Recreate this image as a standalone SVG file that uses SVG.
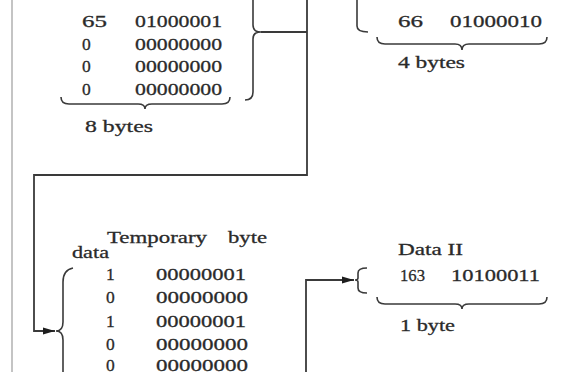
<svg xmlns="http://www.w3.org/2000/svg" width="584" height="372" viewBox="0 0 584 372">
<style>
  text { font-family: "Liberation Serif", "Times New Roman", serif; font-size: 17.5px; fill: #2a2a2a; stroke: #2a2a2a; stroke-width: 0.3; }
  .br { fill: none; stroke: #3a3a3a; stroke-width: 1.6; }
  .ln { fill: none; stroke: #3a3a3a; stroke-width: 1.8; }
</style>
<defs>
  <marker id="ah" markerWidth="12" markerHeight="8" refX="12" refY="4" orient="auto" markerUnits="userSpaceOnUse">
    <path d="M0,0.5 L12,4 L0,7.5 Z" fill="#1e1e1e"/>
  </marker>
</defs>
<rect width="584" height="372" fill="#ffffff"/>
<line x1="12" y1="0" x2="12" y2="372" stroke="#c4c4c4" stroke-width="2"/>

<g id="data-8bytes">
  <text x="82" y="27" textLength="25" lengthAdjust="spacingAndGlyphs">65</text>
  <text x="135" y="27" textLength="87" lengthAdjust="spacingAndGlyphs">01000001</text>
  <text x="82" y="50">0</text>
  <text x="135" y="50" textLength="87" lengthAdjust="spacingAndGlyphs">00000000</text>
  <text x="82" y="72">0</text>
  <text x="135" y="72" textLength="87" lengthAdjust="spacingAndGlyphs">00000000</text>
  <text x="82" y="95">0</text>
  <text x="135" y="95" textLength="87" lengthAdjust="spacingAndGlyphs">00000000</text>
  <path class="br" d="M61,97 Q61,104 69,104 L138,104 Q145,104 145,109 Q145,104 152,104 L222,104 Q230,104 230,97"/>
  <text x="85" y="132" textLength="68" lengthAdjust="spacingAndGlyphs">8 bytes</text>
  <path class="br" d="M253,-4 L253,25 Q253,32 261,32 Q253,32 253,39 L253,92 Q253,100 245,100"/>
</g>

<g id="data-4bytes">
  <path class="br" d="M357,0 L357,26 Q357,32 368,32"/>
  <text x="398" y="27" textLength="25" lengthAdjust="spacingAndGlyphs">66</text>
  <text x="450" y="27" textLength="92" lengthAdjust="spacingAndGlyphs">01000010</text>
  <path class="br" d="M377,37 Q377,44 385,44 L455,44 Q462,44 462,50 Q462,44 469,44 L539,44 Q547,44 547,37"/>
  <text x="398" y="68" textLength="67" lengthAdjust="spacingAndGlyphs">4 bytes</text>
</g>

<g id="temporary-byte">
  <text x="107" y="243" textLength="100" lengthAdjust="spacingAndGlyphs">Temporary</text>
  <text x="228" y="243" textLength="39" lengthAdjust="spacingAndGlyphs">byte</text>
  <text x="72" y="258" textLength="37" lengthAdjust="spacingAndGlyphs">data</text>
  <path class="br" d="M73,268 Q63,270 63,282 L63,322 Q63,331 56,331 Q63,331 63,340 L63,380"/>
  <text x="106" y="280">1</text>
  <text x="156" y="280" textLength="90" lengthAdjust="spacingAndGlyphs">00000001</text>
  <text x="106" y="303">0</text>
  <text x="156" y="303" textLength="92" lengthAdjust="spacingAndGlyphs">00000000</text>
  <text x="106" y="327">1</text>
  <text x="156" y="327" textLength="90" lengthAdjust="spacingAndGlyphs">00000001</text>
  <text x="106" y="350">0</text>
  <text x="156" y="350" textLength="92" lengthAdjust="spacingAndGlyphs">00000000</text>
  <text x="106" y="371">0</text>
  <text x="156" y="371" textLength="92" lengthAdjust="spacingAndGlyphs">00000000</text>
</g>

<g id="data-ii">
  <text x="398" y="255" textLength="65" lengthAdjust="spacingAndGlyphs">Data II</text>
  <path class="br" d="M367,268 Q358,268 358,273 L358,278 Q358,280 355,280 Q358,280 358,282 L358,288 Q358,293 367,293"/>
  <text x="400" y="281" textLength="25" lengthAdjust="spacingAndGlyphs">163</text>
  <text x="451" y="281" textLength="89" lengthAdjust="spacingAndGlyphs">10100011</text>
  <path class="br" d="M377,297 Q377,304 385,304 L455,304 Q462,304 462,309 Q462,304 469,304 L539,304 Q547,304 547,297"/>
  <text x="400" y="331" textLength="55" lengthAdjust="spacingAndGlyphs">1 byte</text>
</g>

<g id="connectors">
  <path class="ln" d="M261,32 L307,32"/>
  <path class="ln" d="M307,0 L307,175 L34,175 L34,331 L55,331" marker-end="url(#ah)"/>
  <path class="ln" d="M306,372 L306,280 L354,280" marker-end="url(#ah)"/>
</g>
</svg>
